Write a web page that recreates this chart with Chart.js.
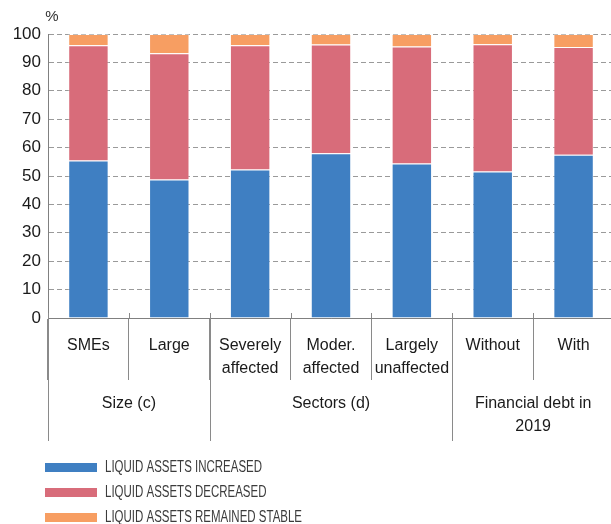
<!DOCTYPE html>
<html>
<head>
<meta charset="utf-8">
<script src="https://cdn.jsdelivr.net/npm/chart.js@4"></script>
<style>
html,body{margin:0;padding:0;background:#fff;overflow:hidden;}
#wrap{width:614px;height:524px;}
</style>
</head>
<body>
<div id="wrap"><canvas id="c" width="614" height="524"></canvas></div>
<script>
const categories = [["SMEs"], ["Large"], ["Severely", "affected"], ["Moder.", "affected"], ["Largely", "unaffected"], ["Without"], ["With"]];
const increased = [55.5, 48.8, 52.3, 58.0, 54.4, 51.6, 57.5];
const decreased = [40.5, 44.4, 43.7, 38.3, 41.2, 44.8, 37.9];
const stable    = [4.0, 6.8, 4.0, 3.7, 4.4, 3.6, 4.6];
const seriesNames = ["LIQUID ASSETS INCREASED", "LIQUID ASSETS DECREASED", "LIQUID ASSETS REMAINED STABLE"];
const groupLabels = [["Size (c)"], ["Sectors (d)"], ["Financial debt in", "2019"]];
const groupStarts = [0, 2, 5];
const groupEnds = [1, 4, 6];
const yTicks = [0, 10, 20, 30, 40, 50, 60, 70, 80, 90, 100];
const unitLabel = "%";

const colors = ["#3f7fc2", "#d86c7a", "#f79e62"];
const FONT = "'Liberation Sans', Arial, Helvetica, sans-serif";

const extras = {
  id: 'extras',
  afterDraw(chart) {
    const ctx = chart.ctx;
    const x = chart.scales.x;
    const area = chart.chartArea;
    const half = (x.getPixelForValue(1) - x.getPixelForValue(0)) / 2;
    ctx.save();
    ctx.strokeStyle = '#8a8a8a';
    ctx.lineWidth = 1;
    for (let i = 0; i <= categories.length; i++) {
      const px = Math.round(x.getPixelForValue(i) - half) + 0.5;
      ctx.beginPath();
      ctx.moveTo(px, area.bottom - 5);
      ctx.lineTo(px, area.bottom);
      ctx.stroke();
    }
    for (let g = 0; g < groupStarts.length; g++) {
      const left = x.getPixelForValue(groupStarts[g]) - half;
      const right = x.getPixelForValue(groupEnds[g]) + half;
      const px = Math.round(left) + 0.5;
      ctx.beginPath();
      ctx.moveTo(px, area.bottom);
      ctx.lineTo(px, 441);
      ctx.stroke();
      ctx.fillStyle = '#1a1a1a';
      ctx.font = '16px ' + FONT;
      ctx.textAlign = 'center';
      ctx.textBaseline = 'middle';
      groupLabels[g].forEach((t, k) => ctx.fillText(t, (left + right) / 2, 404 + k * 23));
    }
    ctx.fillStyle = '#333';
    ctx.font = '15px ' + FONT;
    ctx.textAlign = 'center';
    ctx.textBaseline = 'middle';
    ctx.fillText(unitLabel, 52, 17);
    // legend (horizontally condensed text)
    ctx.font = "16px " + FONT;
    const sx = 157 / ctx.measureText(chart.data.datasets[0].label).width;
    chart.data.datasets.forEach((ds, i) => {
      const y = 463 + i * 25;
      ctx.fillStyle = ds.backgroundColor;
      ctx.fillRect(45, y, 52, 9);
      ctx.save();
      ctx.translate(105, y + 4.5);
      ctx.scale(sx, 1);
      ctx.fillStyle = '#3c3c3c';
      ctx.textAlign = 'left';
      ctx.textBaseline = 'middle';
      ctx.fillText(ds.label, 0, 0);
      ctx.restore();
    });
    ctx.restore();
  }
};

new Chart(document.getElementById('c'), {
  type: 'bar',
  data: {
    labels: categories,
    datasets: [increased, decreased, stable].map((d, i) => ({
      label: seriesNames[i],
      data: d,
      backgroundColor: colors[i],
      borderColor: 'rgba(255,255,255,0.35)',
      borderWidth: 1,
      categoryPercentage: 1,
      barPercentage: 0.5
    }))
  },
  options: {
    responsive: false,
    animation: false,
    layout: { padding: { top: 34, left: 0, right: 0, bottom: 0 } },
    plugins: { legend: { display: false }, tooltip: { enabled: false } },
    scales: {
      x: {
        stacked: true,
        offset: true,
        afterFit: s => { s.height = 206; },
        grid: { drawOnChartArea: false, tickLength: 62, color: '#8a8a8a', offset: true },
        border: { color: '#808080', width: 1 },
        ticks: { font: { size: 16, family: FONT, lineHeight: 1.44 }, color: '#1a1a1a', padding: -46, maxRotation: 0, autoSkip: false }
      },
      y: {
        stacked: true,
        min: 0,
        max: 100,
        afterFit: s => { s.width = 48; },
        afterBuildTicks: s => { s.ticks = yTicks.map(v => ({ value: v })); },
        grid: { color: '#9a9a9a', drawTicks: false, lineWidth: 1 },
        border: { color: '#808080', width: 1, dash: [5, 3] },
        ticks: { font: { size: 17, family: FONT }, color: '#1a1a1a', padding: 7 }
      }
    }
  },
  plugins: [extras]
});
</script>
</body>
</html>
